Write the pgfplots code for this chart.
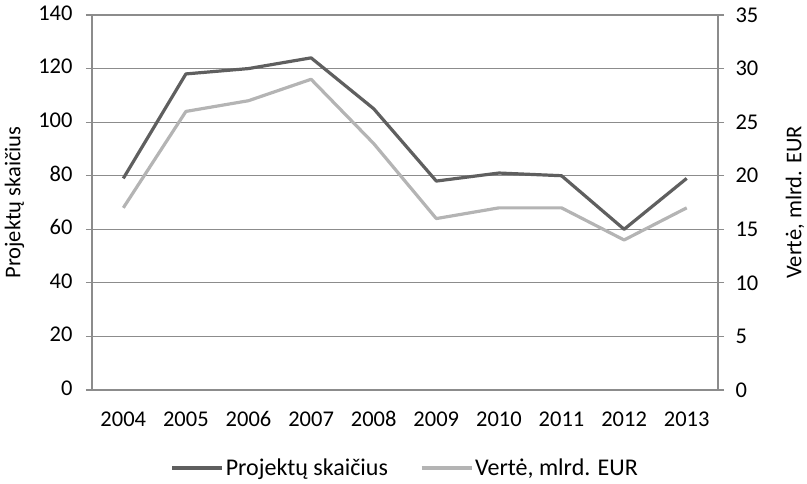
\documentclass[border=0pt]{standalone}
\usepackage{fontspec}
\setmainfont{Carlito}
\usepackage{pgfplots}
\pgfplotsset{compat=1.18}

\definecolor{darkln}{HTML}{5F5F5F}
\definecolor{lightln}{HTML}{B4B4B4}
\definecolor{gridc}{HTML}{8C8C8C}

\newcommand{\chartfont}{\fontsize{22.5}{27}\selectfont}
\newcommand{\legfont}{\fontsize{24}{28}\selectfont}

\pgfplotsset{
  base/.style={
    scale only axis,
    width=626pt, height=375pt,
    xmin=-0.5, xmax=9.5,
    axis line style={gridc, line width=1.2pt},
    tick style={gridc, line width=1.2pt},
    major tick length=6pt,
    tick align=outside,
    tick label style={font=\chartfont},
    /pgf/number format/assume math mode=true,
    label style={font=\chartfont},
  }
}

\begin{document}
\begin{tikzpicture}
  \path[use as bounding box] (-92pt,-94pt) rectangle (715pt,390pt);
  \begin{axis}[
    base,
    ymin=0, ymax=140, ytick={0,20,...,140},
    axis y line*=left, axis x line*=bottom,
    ymajorgrids, grid style={gridc, line width=1.2pt},
    xtick={0,...,9},
    xticklabels={2004,2005,2006,2007,2008,2009,2010,2011,2012,2013},
    x tick style={draw=none},
    typeset ticklabels with strut,
    xticklabel style={yshift=-8pt},
    yticklabel style={xshift=-10pt},
    ylabel={Projektų skaičius},
    ylabel style={at={(axis description cs:-0.124,0.5)}, anchor=center},
  ]
    \addplot[darkln, line width=3.2pt, line join=round] coordinates {
      (0,79) (1,118) (2,120) (3,124) (4,105) (5,78) (6,81) (7,80) (8,60) (9,79)
    };
  \end{axis}
  \begin{axis}[
    base,
    ymin=0, ymax=35, ytick={0,5,...,35},
    axis y line*=right, axis x line=none,
    yticklabel style={xshift=8pt},
    ylabel={Vertė, mlrd. EUR},
    ylabel style={at={(axis description cs:1.123,0.5)}, anchor=center},
    legend style={at={(axis description cs:0.5,0)}, anchor=center, yshift=-78pt,
      draw=none, legend columns=2, font=\legfont,
      /tikz/every even column/.append style={column sep=30pt}},
    legend image code/.code={\draw[#1] (0pt,0pt) -- (50pt,0pt);},
  ]
    \addlegendimage{darkln, line width=3.6pt}
    \addlegendentry{Projektų skaičius}
    \addplot[lightln, line width=3.2pt, line join=round] coordinates {
      (0,17) (1,26) (2,27) (3,29) (4,23) (5,16) (6,17) (7,17) (8,14) (9,17)
    };
    \addlegendentry{Vertė, mlrd. EUR}
  \end{axis}
\end{tikzpicture}
\end{document}
